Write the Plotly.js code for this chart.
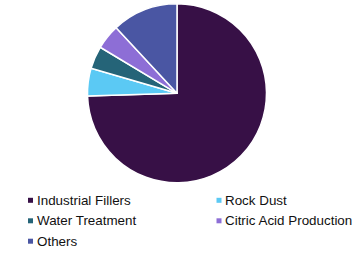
<!DOCTYPE html>
<html>
<head>
<meta charset="utf-8">
<script src="https://cdn.plot.ly/plotly-3.0.1.min.js"></script>
<style>html,body{margin:0;padding:0;background:#fff;}#chart{width:358px;height:254px;}</style>
</head>
<body>
<div id="chart"></div>
<script>
var categories = ["Industrial Fillers", "Rock Dust", "Water Treatment", "Citric Acid Production", "Others"];
var shares = [74.5, 5.0, 4.1, 4.5, 11.9];
var colors = ["#371046", "#5bc9f4", "#256478", "#8d6ed6", "#4a56a3"];

var W = 358, H = 254;
var trace = {
  type: "pie",
  labels: categories,
  values: shares,
  sort: false,
  direction: "clockwise",
  rotation: 0,
  textinfo: "none",
  hoverinfo: "label+percent",
  marker: {colors: colors, line: {color: "#ffffff", width: 1.5}},
  domain: {x: [(177 - 89.5) / W, (177 + 89.5) / W], y: [1 - 182.8 / H, 1 - 3.8 / H]},
  showlegend: false
};

var annotations = [], shapes = [];
var colX = [28, 216.5], rowY = [200.3, 220.8, 241.2];
categories.forEach(function (c, i) {
  var col = i % 2, row = Math.floor(i / 2);
  var mx = colX[col], my = rowY[row];
  shapes.push({type: "rect", xref: "paper", yref: "paper",
    x0: mx / W, x1: (mx + 5) / W, y0: 1 - (my + 2.5) / H, y1: 1 - (my - 2.5) / H,
    fillcolor: colors[i], line: {width: 0}});
  annotations.push({text: c, xref: "paper", yref: "paper", x: (mx + 8.5) / W, y: 1 - my / H,
    xanchor: "left", yanchor: "middle", showarrow: false, borderpad: 0, borderwidth: 0,
    font: {family: "Liberation Sans, Arial, sans-serif", size: 13.4, color: "#111111"}});
});

var layout = {
  width: W, height: H,
  margin: {l: 0, r: 0, t: 0, b: 0},
  paper_bgcolor: "#ffffff",
  showlegend: false,
  annotations: annotations,
  shapes: shapes
};
Plotly.newPlot("chart", [trace], layout, {displayModeBar: false, staticPlot: true});
</script>
</body>
</html>
